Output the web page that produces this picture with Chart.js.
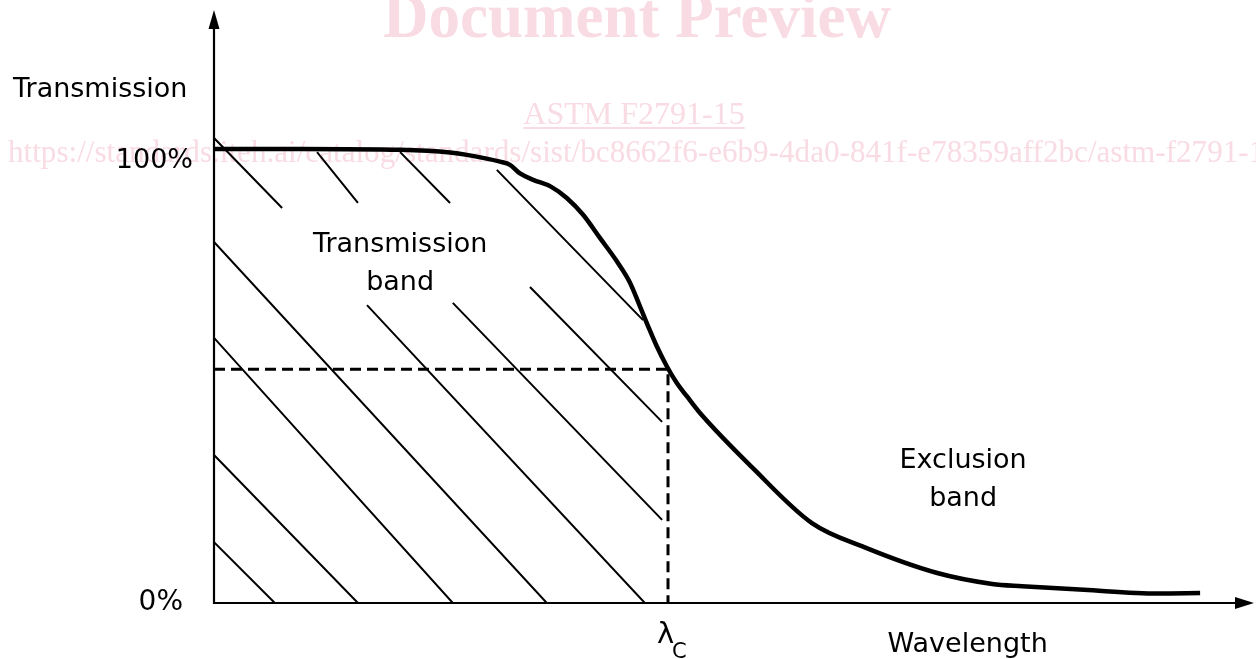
<!DOCTYPE html>
<html>
<head>
<meta charset="utf-8">
<script src="https://cdn.jsdelivr.net/npm/chart.js"></script>
<style>
  html, body { margin: 0; padding: 0; background: #fff; }
  #wrap { width: 1256px; height: 659px; position: relative; }
</style>
</head>
<body>
<div id="wrap"><canvas id="myChart"></canvas></div>
<script>
// wavelength given as lambda / lambda_c, transmission in %
var wavelength   = [0, 0.19, 0.41, 0.52, 0.557, 0.63, 0.652, 0.674, 0.703, 0.742, 0.777, 0.813, 0.850, 0.887, 0.916, 0.938, 0.956, 0.975, 0.997, 1.019, 1.041, 1.070, 1.187, 1.317, 1.432, 1.593, 1.714, 1.780, 1.916, 2.079, 2.172];
var transmission = [100, 100, 99.8, 99.2, 98.7, 97.2, 96.5, 94.6, 93.2, 91.7, 89.2, 85.5, 80.4, 75.3, 70.6, 65.4, 61.0, 56.6, 52.2, 48.5, 45.6, 41.9, 29.7, 17.6, 12.3, 6.6, 4.2, 3.7, 2.9, 2.1, 2.2];

// hatch strokes of the transmission band: [x1, y1, x2, y2]
var hatchSegments = [
  [0, 102.4, 0.150, 87.0],
  [0.227, 99.3, 0.317, 88.1],
  [0.410, 99.3, 0.520, 88.1],
  [0.623, 95.4, 0.945, 62.3],
  [0, 79.5, 0.733, 0],
  [0, 58.4, 0.526, 0],
  [0, 32.6, 0.317, 0],
  [0, 13.4, 0.134, 0],
  [0.337, 65.6, 0.949, 0],
  [0.526, 66.1, 0.987, 18.3],
  [0.696, 69.6, 0.987, 39.9]
];

var lambdaC = 1;
var cutoffLevel = 51.5;

var yTickValues = [0, 100];
var yTickLabels = ['0%', '100%'];
var axisTitleY = 'Transmission';
var axisTitleX = 'Wavelength';
var bandLabels = [
  { x: 0.41, y: 77.3, lines: ['Transmission', 'band'] },
  { x: 1.65, y: 29.7, lines: ['Exclusion', 'band'] }
];

var watermarkTitle = 'Document Preview';
var watermarkCode = 'ASTM F2791-15';
var watermarkUrl = 'https://standards.iteh.ai/catalog/standards/sist/bc8662f6-e6b9-4da0-841f-e78359aff2bc/astm-f2791-15';

var curve = wavelength.map(function(w, i){ return { x: w, y: transmission[i] }; });

var hatch = [];
hatchSegments.forEach(function(s){
  hatch.push({ x: s[0], y: s[1] });
  hatch.push({ x: s[2], y: s[3] });
  hatch.push({ x: s[2], y: null });
});

var guide = [
  { x: 0, y: cutoffLevel },
  { x: lambdaC, y: cutoffLevel },
  { x: lambdaC, y: 0 }
];

var FONT = '"DejaVu Sans", Verdana, sans-serif';

var drawing = {
  id: 'drawing',
  beforeDraw: function(chart){
    var ctx = chart.ctx;
    ctx.save();
    ctx.fillStyle = '#f9dbe3';
    ctx.strokeStyle = '#f9dbe3';
    ctx.textAlign = 'center';
    ctx.textBaseline = 'alphabetic';
    ctx.font = 'bold 63px "Liberation Serif", serif';
    ctx.fillText(watermarkTitle, 637, 37);
    ctx.font = '32px "Liberation Serif", serif';
    ctx.fillText(watermarkCode, 634, 124);
    var w = ctx.measureText(watermarkCode).width;
    ctx.lineWidth = 2;
    ctx.beginPath();
    ctx.moveTo(634 - w / 2, 128);
    ctx.lineTo(634 + w / 2, 128);
    ctx.stroke();
    ctx.textAlign = 'left';
    var uw = ctx.measureText(watermarkUrl).width;
    var size = 32 * 1272 / uw;
    ctx.font = size + 'px "Liberation Serif", serif';
    ctx.fillText(watermarkUrl, 8, 162);
    ctx.restore();
  },
  afterDatasetsDraw: function(chart){
    var ctx = chart.ctx;
    var a = chart.chartArea;
    var xs = chart.scales.x, ys = chart.scales.y;
    var x0 = xs.getPixelForValue(0), y0 = ys.getPixelForValue(0);
    ctx.save();
    ctx.strokeStyle = '#000';
    ctx.fillStyle = '#000';
    ctx.lineWidth = 2.2;
    ctx.beginPath();
    ctx.moveTo(x0, a.top + 12);
    ctx.lineTo(x0, y0);
    ctx.lineTo(a.right - 12, y0);
    ctx.stroke();
    // arrow heads
    ctx.beginPath();
    ctx.moveTo(x0, a.top);
    ctx.lineTo(x0 - 5.5, a.top + 19);
    ctx.lineTo(x0 + 5.5, a.top + 19);
    ctx.closePath();
    ctx.fill();
    ctx.beginPath();
    ctx.moveTo(a.right, y0);
    ctx.lineTo(a.right - 19, y0 - 6);
    ctx.lineTo(a.right - 19, y0 + 6);
    ctx.closePath();
    ctx.fill();

    // tick labels
    ctx.textAlign = 'right';
    ctx.font = '27px ' + FONT;
    ctx.textBaseline = 'top';
    ctx.fillText(yTickLabels[1], x0 - 21, ys.getPixelForValue(yTickValues[1]) - 1);
    ctx.font = '28px ' + FONT;
    ctx.textBaseline = 'middle';
    ctx.fillText(yTickLabels[0], x0 - 31, ys.getPixelForValue(yTickValues[0]));

    // axis titles
    ctx.font = '27px ' + FONT;
    ctx.textBaseline = 'alphabetic';
    ctx.textAlign = 'left';
    ctx.fillText(axisTitleY, x0 - 201, ys.getPixelForValue(100) - 52);
    ctx.textAlign = 'center';
    ctx.fillText(axisTitleX, xs.getPixelForValue(1.66), y0 + 49);

    // band labels
    bandLabels.forEach(function(b){
      var px = xs.getPixelForValue(b.x), py = ys.getPixelForValue(b.y);
      b.lines.forEach(function(t, i){ ctx.fillText(t, px, py + i * 38); });
    });

    // lambda c
    var lx = xs.getPixelForValue(lambdaC);
    ctx.textAlign = 'left';
    ctx.font = '29px ' + FONT;
    ctx.fillText('\u03bb', lx - 11, y0 + 40);
    ctx.font = '21px ' + FONT;
    ctx.fillText('C', lx + 4, y0 + 55);
    ctx.restore();
  }
};

var ctx = document.getElementById('myChart');
var myChart = new Chart(ctx, {
  type: 'line',
  data: {
    datasets: [{
      label: 'hatch',
      data: hatch,
      borderColor: '#000',
      borderWidth: 2,
      pointRadius: 0,
      spanGaps: false,
      tension: 0
    }, {
      label: 'cutoff',
      data: guide,
      borderColor: '#000',
      borderWidth: 3,
      borderDash: [11, 6],
      pointRadius: 0,
      tension: 0
    }, {
      label: 'Transmission',
      data: curve,
      borderColor: '#000',
      borderWidth: 4.5,
      pointRadius: 0,
      cubicInterpolationMode: 'monotone'
    }]
  },
  options: {
    responsive: true,
    maintainAspectRatio: false,
    animation: false,
    layout: { padding: { left: 214, right: 2, top: 10, bottom: 56 } },
    plugins: { legend: { display: false }, tooltip: { enabled: false } },
    scales: {
      x: { type: 'linear', min: 0, max: 2.2907, display: false },
      y: { type: 'linear', min: 0, max: 130.6, display: false }
    }
  },
  plugins: [drawing]
});
</script>
</body>
</html>
